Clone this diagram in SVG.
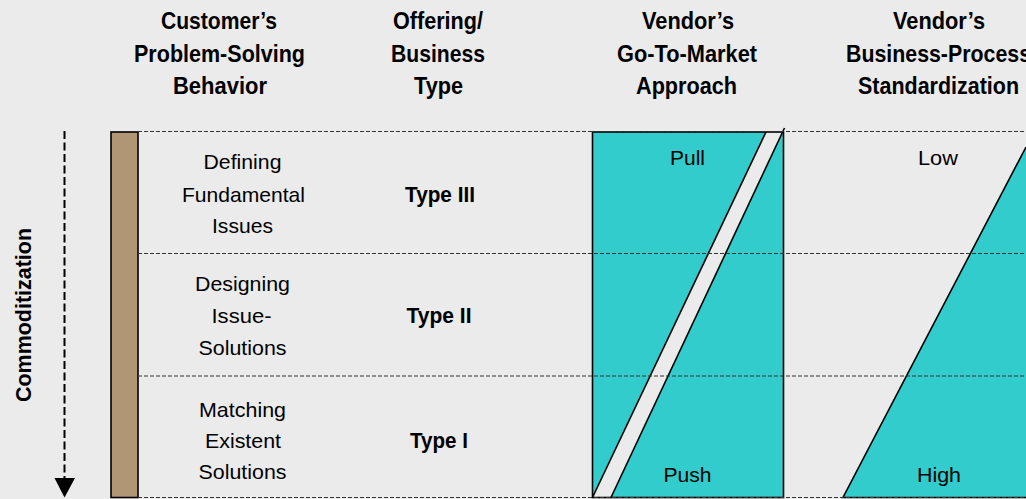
<svg xmlns="http://www.w3.org/2000/svg" width="1026" height="499" viewBox="0 0 1026 499">
<style>
text{font-family:"Liberation Sans",Arial,sans-serif;fill:#000;text-anchor:middle}
.h{font-size:24px;font-weight:bold}
.b{font-size:21px}
.t{font-size:22px;font-weight:bold}
.dash{stroke:#333;stroke-width:1;stroke-dasharray:4 2;fill:none}
.teal{fill:#33cccc}
.edge{stroke:#000;stroke-width:1.6;fill:none}
</style>
<rect width="1026" height="499" fill="#ebebeb"/>

<g id="headers">
<text class="h" x="219" y="29" textLength="116" lengthAdjust="spacingAndGlyphs">Customer’s</text>
<text class="h" x="219.5" y="62" textLength="171" lengthAdjust="spacingAndGlyphs">Problem-Solving</text>
<text class="h" x="220" y="94" textLength="94" lengthAdjust="spacingAndGlyphs">Behavior</text>
<text class="h" x="438" y="29" textLength="90" lengthAdjust="spacingAndGlyphs">Offering/</text>
<text class="h" x="438" y="62" textLength="94" lengthAdjust="spacingAndGlyphs">Business</text>
<text class="h" x="438.5" y="94" textLength="49" lengthAdjust="spacingAndGlyphs">Type</text>
<text class="h" x="688" y="29" textLength="92" lengthAdjust="spacingAndGlyphs">Vendor’s</text>
<text class="h" x="687" y="62" textLength="140" lengthAdjust="spacingAndGlyphs">Go-To-Market</text>
<text class="h" x="686.5" y="94" textLength="101" lengthAdjust="spacingAndGlyphs">Approach</text>
<text class="h" x="939" y="29" textLength="92" lengthAdjust="spacingAndGlyphs">Vendor’s</text>
<text class="h" x="938.5" y="62" textLength="185" lengthAdjust="spacingAndGlyphs">Business-Process</text>
<text class="h" x="938.5" y="94" textLength="161" lengthAdjust="spacingAndGlyphs">Standardization</text>
</g>

<g id="gtm-box">
<rect class="teal" x="592.5" y="132" width="191" height="365.5"/>
<polygon points="766,132 784.5,128 611,497.5 592.5,497.5" fill="#ebebeb"/>
<line class="edge" x1="766" y1="132" x2="592.5" y2="497.5"/>
<line class="edge" x1="784.5" y1="128" x2="611" y2="497.5"/>
<rect class="edge" x="592.5" y="132" width="191" height="365.5"/>
</g>

<g id="standardization">
<polygon class="teal" points="843,497.5 1026,147 1026,497.5"/>
<polyline class="edge" points="1026,497.5 843,497.5 1026,147"/>
</g>

<g id="commodity-bar">
<rect x="111" y="132" width="27" height="365.5" fill="#b09674" stroke="#000" stroke-width="1.6"/>
</g>

<g id="connectors">
<line class="dash" x1="138" y1="131.5" x2="1026" y2="131.5"/>
<line class="dash" x1="138" y1="253.5" x2="1026" y2="253.5"/>
<line class="dash" x1="138" y1="376" x2="1026" y2="376"/>
<line class="dash" x1="138" y1="497.5" x2="1026" y2="497.5"/>
<line x1="64.5" y1="131" x2="64.5" y2="479" stroke="#000" stroke-width="2" stroke-dasharray="8 3.5"/>
<polygon points="54.5,478 75,478 64.5,497.5" fill="#000"/>
</g>

<g id="axis-label">
<text class="h" font-size="22" transform="translate(31,315) rotate(-90)" textLength="174" lengthAdjust="spacingAndGlyphs" style="font-size:22px">Commoditization</text>
</g>

<g id="row1">
<text class="b" x="242.5" y="169" textLength="78" lengthAdjust="spacingAndGlyphs">Defining</text>
<text class="b" x="243.5" y="201.5" textLength="123" lengthAdjust="spacingAndGlyphs">Fundamental</text>
<text class="b" x="242.5" y="233" textLength="61" lengthAdjust="spacingAndGlyphs">Issues</text>
<text class="t" x="440" y="201.5" textLength="70" lengthAdjust="spacingAndGlyphs">Type III</text>
</g>
<g id="row2">
<text class="b" x="242.5" y="291" textLength="95" lengthAdjust="spacingAndGlyphs">Designing</text>
<text class="b" x="241.5" y="323" textLength="60" lengthAdjust="spacingAndGlyphs">Issue-</text>
<text class="b" x="242.5" y="355" textLength="88" lengthAdjust="spacingAndGlyphs">Solutions</text>
<text class="t" x="439" y="323" textLength="65" lengthAdjust="spacingAndGlyphs">Type II</text>
</g>
<g id="row3">
<text class="b" x="242.5" y="416.5" textLength="87" lengthAdjust="spacingAndGlyphs">Matching</text>
<text class="b" x="243" y="448" textLength="76" lengthAdjust="spacingAndGlyphs">Existent</text>
<text class="b" x="242.5" y="479" textLength="88" lengthAdjust="spacingAndGlyphs">Solutions</text>
<text class="t" x="439" y="448" textLength="58" lengthAdjust="spacingAndGlyphs">Type I</text>
</g>

<g id="labels">
<text class="b" x="687.5" y="165" textLength="35" lengthAdjust="spacingAndGlyphs">Pull</text>
<text class="b" x="687.5" y="481.5" textLength="48" lengthAdjust="spacingAndGlyphs">Push</text>
<text class="b" x="938" y="165" textLength="40" lengthAdjust="spacingAndGlyphs">Low</text>
<text class="b" x="939" y="481.5" textLength="44" lengthAdjust="spacingAndGlyphs">High</text>
</g>
</svg>
